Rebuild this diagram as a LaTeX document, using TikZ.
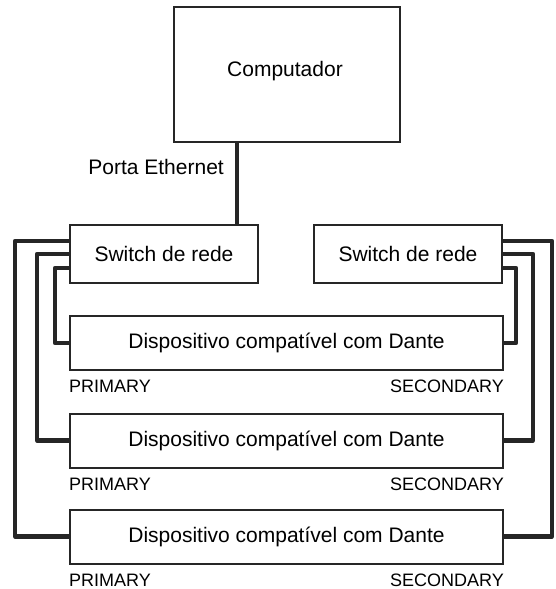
\documentclass[tikz,border=0pt]{standalone}
\usepackage{fontspec}
\setmainfont{Liberation Sans}
\begin{document}
\begin{tikzpicture}[x=1pt,y=-1pt,
  box/.style={draw=black!85, line width=2pt, inner sep=0pt, font=\fontsize{21}{24}\selectfont},
  lbl/.style={inner sep=0pt, font=\fontsize{18}{20}\selectfont},
  cable/.style={draw=black!85, line width=4.2pt, line join=round}]
\useasboundingbox (0,0) rectangle (556,589);
\node[box, minimum width=226pt, minimum height=135pt] (comp) at (287,74.5) {};
\node[inner sep=0pt, font=\fontsize{21}{24}\selectfont] (comptext) at (285,71) {Computador};
\node[box, minimum width=188pt, minimum height=58pt] (swL) at (164,254) {Switch de rede};
\node[box, minimum width=188pt, minimum height=58pt] (swR) at (408,254) {Switch de rede};
\node[box, minimum width=433pt, minimum height=54pt] (d1) at (286.5,343) {Dispositivo compatível com Dante};
\node[box, minimum width=433pt, minimum height=54pt] (d2) at (286.5,440.5) {Dispositivo compatível com Dante};
\node[box, minimum width=433pt, minimum height=54pt] (d3) at (286.5,536.5) {Dispositivo compatível com Dante};
\foreach \d in {d1,d2,d3}{
  \node[lbl, anchor=base west] (\d p) at ([xshift=0pt,yshift=-21.5pt]\d.south west) {PRIMARY};
  \node[lbl, anchor=base east] (\d s) at ([xshift=0pt,yshift=-21.5pt]\d.south east) {SECONDARY};
}
\coordinate (ethx) at (237,0);
\draw[cable] (comp.south -| ethx) -- (swL.north -| ethx);
\node[inner sep=0pt, anchor=east, font=\fontsize{21}{24}\selectfont] (eth) at (224,167) {Porta Ethernet};
% left (primary) cables
\draw[cable] ([yshift=13pt]swL.west) -- ++(-54,0) |- (d3.west);
\draw[cable] (swL.west) -- ++(-32,0) |- (d2.west);
\draw[cable] ([yshift=-14pt]swL.west) -- ++(-14,0) |- (d1.west);
% right (secondary) cables
\draw[cable] ([yshift=13pt]swR.east) -- ++(49,0) |- (d3.east);
\draw[cable] (swR.east) -- ++(30,0) |- (d2.east);
\draw[cable] ([yshift=-14pt]swR.east) -- ++(13,0) |- (d1.east);
\end{tikzpicture}
\end{document}
